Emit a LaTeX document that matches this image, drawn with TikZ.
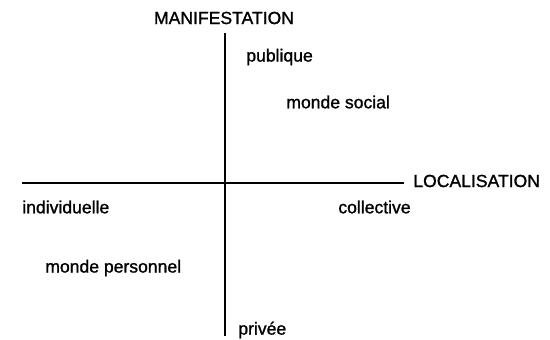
\documentclass[tikz,border=0pt]{standalone}
\usepackage{fontspec}
\setmainfont[BoldFont=Liberation Sans,BoldFeatures={FakeBold=1.2}]{Liberation Sans}
\usepackage{tikz}

\begin{document}
\begin{tikzpicture}[x=0.02cm,y=-0.02cm]
  \tikzset{every node/.style={inner sep=0pt,font=\fontsize{10}{12}\selectfont\bfseries},
           axis/.style={line width=1pt}};
  \useasboundingbox (0,0) rectangle (550,339);
  % axes
  \coordinate (N) at (225,33);
  \coordinate (S) at (225,336);
  \coordinate (W) at (22,183);
  \coordinate (E) at (404,183);
  \draw[axis] (N) -- (S);
  \draw[axis] (W) -- (E);
  \node (MAN) at (224,18){MANIFESTATION};
  \node[anchor=west] (LOC) at (413,181){LOCALISATION};
  % poles
  \node[anchor=west] (pub) at (246,57){publique};
  \node[anchor=west] (priv) at (238,330){privée};
  \node[anchor=west] (ind) at (22,207){individuelle};
  \node[anchor=west] (coll) at (338,207){collective};
  % mondes
  \node[anchor=west] (soc) at (286,102){monde social};
  \node[anchor=west] (pers) at (45,268){monde personnel};
\end{tikzpicture}
\end{document}
